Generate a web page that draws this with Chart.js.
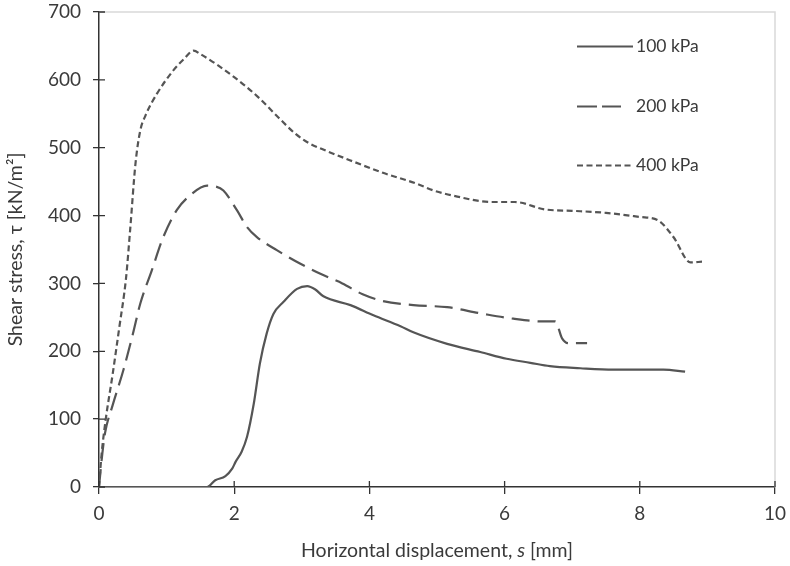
<!DOCTYPE html>
<html><head><meta charset="utf-8">
<script src="https://cdn.jsdelivr.net/npm/chart.js@4.4.1/dist/chart.umd.min.js"></script>
<style>html,body{margin:0;padding:0;background:#fff}#wrap{width:790px;height:566px}</style>
</head><body><div id="wrap"><canvas id="c" width="790" height="566"></canvas></div>
<script>
const seriesLabels = ['100 kPa', '200 kPa', '400 kPa'];
const xTicks = [0, 2, 4, 6, 8, 10];
const yTicks = [0, 100, 200, 300, 400, 500, 600, 700];

const x100 = [0, 1.6, 1.72, 1.87, 1.97, 2.02, 2.11, 2.19, 2.29, 2.38, 2.48, 2.58, 2.73, 2.93, 3.08, 3.2, 3.32, 3.72, 4.06, 4.46, 4.65, 5.15, 5.64, 6.03, 6.38, 6.67, 7.12, 7.61, 8.1, 8.35, 8.67];
const y100 = [0, 0, 10, 16, 27, 37, 52, 74, 123, 182, 226, 255, 273, 292, 296, 291, 281, 268, 253, 237, 228, 211, 199, 189, 183, 178, 175, 173, 173, 173, 170];

const x200 = [0, 0.05, 0.09, 0.2, 0.36, 0.5, 0.61, 0.78, 0.95, 1.15, 1.35, 1.6, 1.72, 1.84, 2.04, 2.19, 2.34, 2.63, 2.98, 3.3, 3.6, 3.9, 4.2, 4.65, 5.15, 5.64, 6.13, 6.57, 6.75, 6.85, 6.94, 7.22];
const y200 = [0, 50, 80, 120, 172, 225, 270, 319, 368, 408, 430, 444, 443, 437, 408, 383, 368, 349, 329, 313, 300, 284, 274, 268, 265, 256, 248, 244, 244, 219, 212, 212];

const x400 = [0, 0.04, 0.1, 0.2, 0.3, 0.4, 0.46, 0.54, 0.61, 0.69, 0.86, 1.1, 1.25, 1.4, 1.5, 2.0, 2.35, 2.65, 2.9, 3.1, 3.3, 3.7, 4.2, 4.7, 4.95, 5.3, 5.8, 6.15, 6.6, 7.0, 7.5, 8.0, 8.27, 8.5, 8.75, 8.92];
const y400 = [0, 50, 100, 165, 235, 308, 378, 477, 525, 548, 580, 614, 630, 643, 638, 604, 575, 545, 521, 507, 498, 482, 463, 447, 437, 428, 420, 420, 409, 407, 404, 398, 393, 368, 331, 332];

const FONT = 'Lato, "Open Sans", sans-serif';
const LINE = '#555555';
const AXIS = '#333333';
const TXT = '#3a3a3a';

function pts(xs, ys) { return xs.map((x, i) => ({ x: x, y: ys[i] })); }

const crossTicks = {
  id: 'crossTicks',
  afterDraw(chart) {
    const ctx = chart.ctx, a = chart.chartArea;
    const xs = chart.scales.x, ys = chart.scales.y;
    ctx.save();
    ctx.strokeStyle = '#d9d9d9';
    ctx.lineWidth = 1.5;
    ctx.beginPath();
    ctx.moveTo(a.left, a.top); ctx.lineTo(a.right, a.top); ctx.lineTo(a.right, a.bottom);
    ctx.stroke();
    ctx.strokeStyle = AXIS;
    ctx.lineWidth = 1.3;
    ctx.beginPath();
    xTicks.forEach(v => { const p = xs.getPixelForValue(v); ctx.moveTo(p, a.bottom); ctx.lineTo(p, a.bottom - 6); });
    yTicks.forEach(v => { const p = ys.getPixelForValue(v); ctx.moveTo(a.left, p); ctx.lineTo(a.left + 6, p); });
    ctx.stroke();
    ctx.fillStyle = TXT;
    ctx.textBaseline = 'middle';
    const cx = (a.left + a.right) / 2;
    const parts = [['Horizontal displacement, ', 'normal'], ['s', 'italic'], [' [mm]', 'normal']];
    let total = 0;
    parts.forEach(p => { ctx.font = p[1] + ' 19.5px ' + FONT; total += ctx.measureText(p[0]).width; });
    let x = cx - total / 2;
    ctx.textAlign = 'left';
    parts.forEach(p => { ctx.font = p[1] + ' 19.5px ' + FONT; ctx.fillText(p[0], x, 551); x += ctx.measureText(p[0]).width; });
    ctx.save();
    ctx.translate(16, (a.top + a.bottom) / 2);
    ctx.rotate(-Math.PI / 2);
    ctx.textAlign = 'center';
    ctx.font = 'normal 19.5px ' + FONT;
    ctx.fillText('Shear stress, \u03C4 [kN/m\u00B2]', 0, 0);
    ctx.restore();
    const ly = [46.5, 106.5, 165.5];
    const lend = [633, 621, 633];
    const ldash = [[], [20, 5], [6, 3.5]];
    chart.data.datasets.forEach((ds, i) => {
      ctx.strokeStyle = ds.borderColor;
      ctx.lineWidth = ds.borderWidth;
      ctx.setLineDash(ldash[i]);
      ctx.beginPath();
      ctx.moveTo(577, ly[i]); ctx.lineTo(lend[i], ly[i]);
      ctx.stroke();
      ctx.setLineDash([]);
      ctx.fillStyle = TXT;
      ctx.font = 'normal 17.5px ' + FONT;
      ctx.textAlign = 'left';
      ctx.fillText(ds.label, 636, ly[i]);
    });
    ctx.restore();
  }
};

function noPad(s) { s.paddingLeft = 0; s.paddingRight = 0; s.paddingTop = 0; s.paddingBottom = 0; }

new Chart(document.getElementById('c'), {
  type: 'scatter',
  data: {
    datasets: [
      { label: seriesLabels[0], data: pts(x100, y100), borderColor: LINE, borderWidth: 2.2, borderDash: [] },
      { label: seriesLabels[1], data: pts(x200, y200), borderColor: LINE, borderWidth: 2.2, borderDash: [18, 8] },
      { label: seriesLabels[2], data: pts(x400, y400), borderColor: LINE, borderWidth: 2.2, borderDash: [6, 3.5] }
    ].map(d => Object.assign(d, { showLine: true, pointRadius: 0, pointHoverRadius: 0, fill: false, cubicInterpolationMode: 'monotone' }))
  },
  options: {
    responsive: false,
    animation: false,
    events: [],
    layout: { padding: { left: 0, right: 15, top: 12, bottom: 0 } },
    plugins: { legend: { display: false }, tooltip: { enabled: false } },
    scales: {
      x: {
        type: 'linear', min: 0, max: 10,
        afterBuildTicks: s => { s.ticks = xTicks.map(v => ({ value: v })); },
        afterFit: s => { s.height = 79; noPad(s); },
        grid: { drawOnChartArea: false, drawTicks: true, tickLength: 7, color: AXIS, lineWidth: 1.3 },
        border: { display: true, color: AXIS, width: 1.5 },
        ticks: { color: TXT, font: { family: FONT, size: 19 }, padding: 8, maxRotation: 0 }
      },
      y: {
        type: 'linear', min: 0, max: 700,
        afterBuildTicks: s => { s.ticks = yTicks.map(v => ({ value: v })); },
        afterFit: s => { s.width = 99; noPad(s); },
        grid: { drawOnChartArea: false, drawTicks: true, tickLength: 6, color: AXIS, lineWidth: 1.3 },
        border: { display: true, color: AXIS, width: 1.5 },
        ticks: { color: TXT, font: { family: FONT, size: 19 }, padding: 12 }
      }
    }
  },
  plugins: [crossTicks]
});
</script></body></html>
